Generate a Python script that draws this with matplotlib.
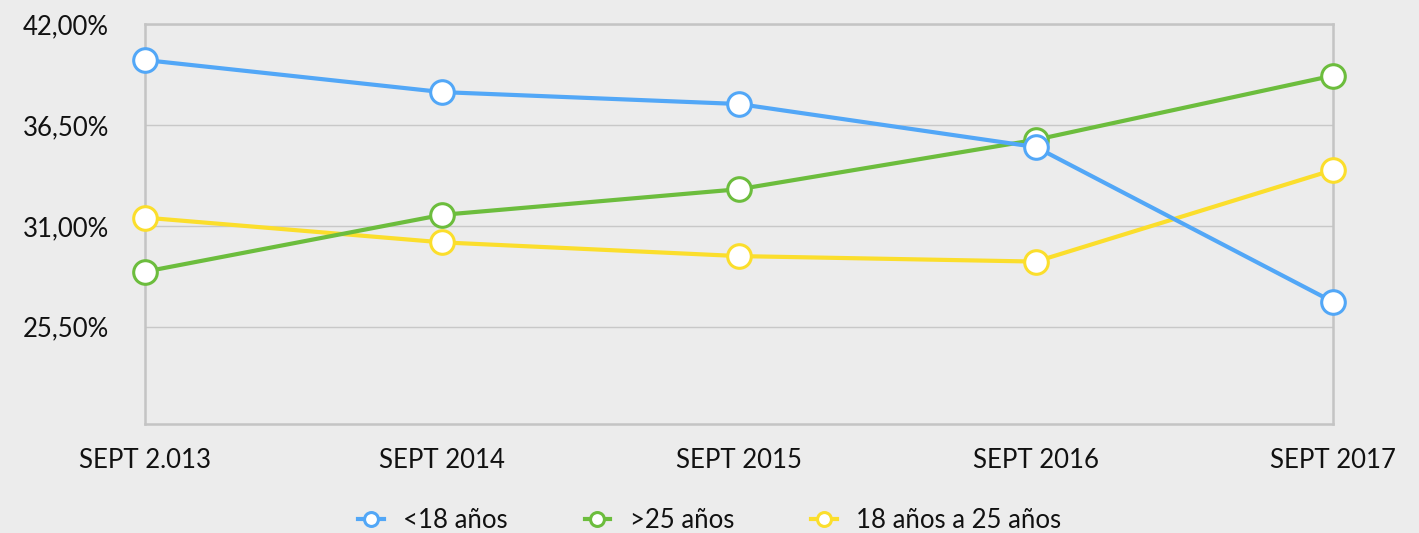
import matplotlib
matplotlib.use("Agg")
import matplotlib.pyplot as plt
from matplotlib.lines import Line2D

categories = ["SEPT 2.013", "SEPT 2014", "SEPT 2015", "SEPT 2016", "SEPT 2017"]
menores_18 = [40.05, 38.3, 37.65, 35.3, 26.85]
mayores_25 = [28.5, 31.6, 33.0, 35.7, 39.2]
entre_18_25 = [31.45, 30.1, 29.35, 29.05, 34.05]
series_names = ["<18 años", ">25 años", "18 años a 25 años"]
yticks = [25.5, 31.0, 36.5, 42.0]
ytick_labels = ["25,50%", "31,00%", "36,50%", "42,00%"]

colors = ["#52a7f7", "#6cbd3d", "#fbde2c"]
bg = "#ececec"

plt.rcParams['font.family'] = ['Lato', 'DejaVu Sans']

W, H = 1419, 533
fig = plt.figure(figsize=(W / 100, H / 100), dpi=100, facecolor=bg)
ax = fig.add_axes([145 / W, 1 - 424.3 / H, (1333 - 145) / W, (424.3 - 24.3) / H])
ax.set_facecolor(bg)

x = list(range(len(categories)))
data = [menores_18, mayores_25, entre_18_25]
zorders = [5, 4, 3]
for vals, c, name, z in zip(data, colors, series_names, zorders):
    ax.plot(x, vals, color=c, lw=3, zorder=z, clip_on=False,
            marker="o", markersize=17, markerfacecolor="white",
            markeredgecolor=c, markeredgewidth=2.2, label=name)

ax.set_xlim(0, len(categories) - 1)
ax.set_ylim(20.17, 42)
ax.set_yticks(yticks)
ax.set_yticklabels(ytick_labels)
ax.set_xticks(x)
ax.set_xticklabels(categories)
ax.tick_params(axis="both", length=0, labelsize=18.5, colors="#111111")
ax.tick_params(axis="y", pad=26)
ax.tick_params(axis="x", pad=17)

for s in ax.spines.values():
    s.set_color("#c4c4c4")
    s.set_linewidth(1.8)
ax.grid(axis="y", color="#c8c8c8", lw=1)
ax.set_axisbelow(True)

handles = [Line2D([0], [0], color=c, lw=3, marker="o", markersize=10,
                  markerfacecolor="white", markeredgecolor=c, markeredgewidth=2.2)
           for c in colors]
fig.legend(handles, series_names, loc="center", bbox_to_anchor=(0.5, 1 - 520 / H),
           ncol=3, frameon=False, fontsize=18.5, handlelength=1.0,
           columnspacing=3.0, handletextpad=0.75, labelcolor="#111111")

fig.savefig("out.png", dpi=100, facecolor=bg)
